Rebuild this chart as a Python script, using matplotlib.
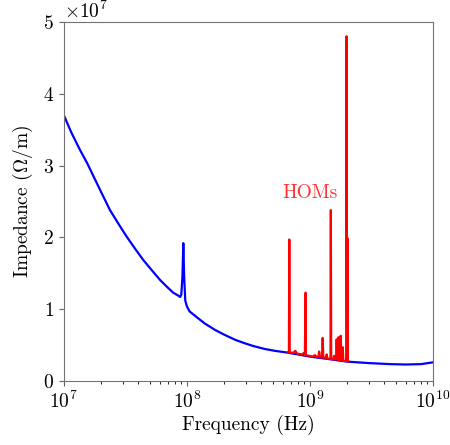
import matplotlib
matplotlib.use("Agg")
import matplotlib.pyplot as plt

# broadband impedance (Hz, Ohm/m in units of 1e7)
freq_bb = [1e7, 1.15e7, 1.35e7, 1.55e7, 1.73e7, 2.05e7, 2.37e7, 2.8e7, 3.24e7,
           3.8e7, 4.42e7, 5.2e7, 6.03e7, 6.9e7, 7.74e7, 8.5e7, 8.8e7, 9.0e7,
           9.2e7, 9.35e7, 9.5e7, 9.7e7, 1.0e8, 1.05e8, 1.2e8, 1.4e8, 1.7e8,
           2.04e8, 2.5e8, 2.96e8, 3.5e8, 4.3e8, 5.2e8, 6.3e8, 8e8, 1e9,
           1.5e9, 2e9, 3e9, 4.5e9, 6e9, 8e9, 1e10]
z_bb = [3.70, 3.46, 3.22, 3.03, 2.86, 2.60, 2.38, 2.18, 2.01,
        1.84, 1.685, 1.54, 1.41, 1.31, 1.23, 1.19, 1.17, 1.20,
        1.45, 1.92, 1.45, 1.12, 1.04, 0.97, 0.89, 0.80, 0.71,
        0.64, 0.57, 0.525, 0.485, 0.446, 0.42, 0.40, 0.37, 0.34,
        0.30, 0.27, 0.25, 0.235, 0.23, 0.235, 0.26]

# higher order modes
freq_hom = [6.6e8, 6.75e8, 6.8e8, 6.85e8, 7.3e8, 7.6e8, 7.9e8, 8.7e8, 8.9e8,
            9.1e8, 9.22e8, 9.27e8, 9.32e8, 1.05e9, 1.1e9, 1.14e9, 1.17e9,
            1.19e9, 1.21e9, 1.255e9, 1.27e9, 1.285e9, 1.35e9, 1.37e9, 1.39e9,
            1.47e9, 1.48e9, 1.49e9, 1.55e9, 1.57e9, 1.59e9, 1.63e9, 1.65e9,
            1.67e9, 1.7e9, 1.71e9, 1.73e9, 1.77e9, 1.78e9, 1.8e9, 1.84e9,
            1.85e9, 1.87e9, 1.975e9, 1.985e9, 1.995e9, 2.005e9, 2.02e9,
            2.035e9, 2.06e9]
z_hom = [0.40, 0.40, 1.97, 0.40, 0.39, 0.42, 0.38, 0.37, 0.39,
         0.36, 1.23, 0.36, 0.36, 0.34, 0.36, 0.33, 0.34,
         0.41, 0.33, 0.33, 0.60, 0.33, 0.32, 0.37, 0.31,
         0.31, 2.38, 0.31, 0.30, 0.35, 0.30, 0.30, 0.58,
         0.30, 0.30, 0.61, 0.29, 0.29, 0.63, 0.29, 0.29,
         0.47, 0.28, 0.28, 4.80, 2.57, 0.28, 1.99,
         0.27, 0.27]

plt.rcParams["font.family"] = ["cmr10", "DejaVu Serif"]
plt.rcParams["mathtext.fontset"] = "cm"
plt.rcParams["axes.formatter.use_mathtext"] = True
plt.rcParams["axes.unicode_minus"] = False

fig = plt.figure(figsize=(4.5, 4.45), dpi=100)
ax = fig.add_axes([0.142, 0.1438, 0.82, 0.8068])

ax.plot(freq_bb, [z * 1e7 for z in z_bb], color="blue", lw=1.6)
ax.plot(freq_hom, [z * 1e7 for z in z_hom], color="red", lw=1.6)
ax.text(1.0e9, 2.62e7, "HOMs", color="#ff3333", fontsize=14,
        ha="center", va="center")

ax.set_xscale("log")
ax.set_xlim(1e7, 1e10)
ax.set_ylim(0, 5e7)
ax.set_xlabel("Frequency (Hz)", fontsize=14, labelpad=2)
ax.set_ylabel(r"Impedance ($\Omega$/m)", fontsize=14, labelpad=6)
ax.tick_params(labelsize=14, colors="0.4", labelcolor="black")
ax.yaxis.get_offset_text().set_fontsize(14)
for s in ax.spines.values():
    s.set_color("0.45")

fig.savefig("out.png", dpi=100)
